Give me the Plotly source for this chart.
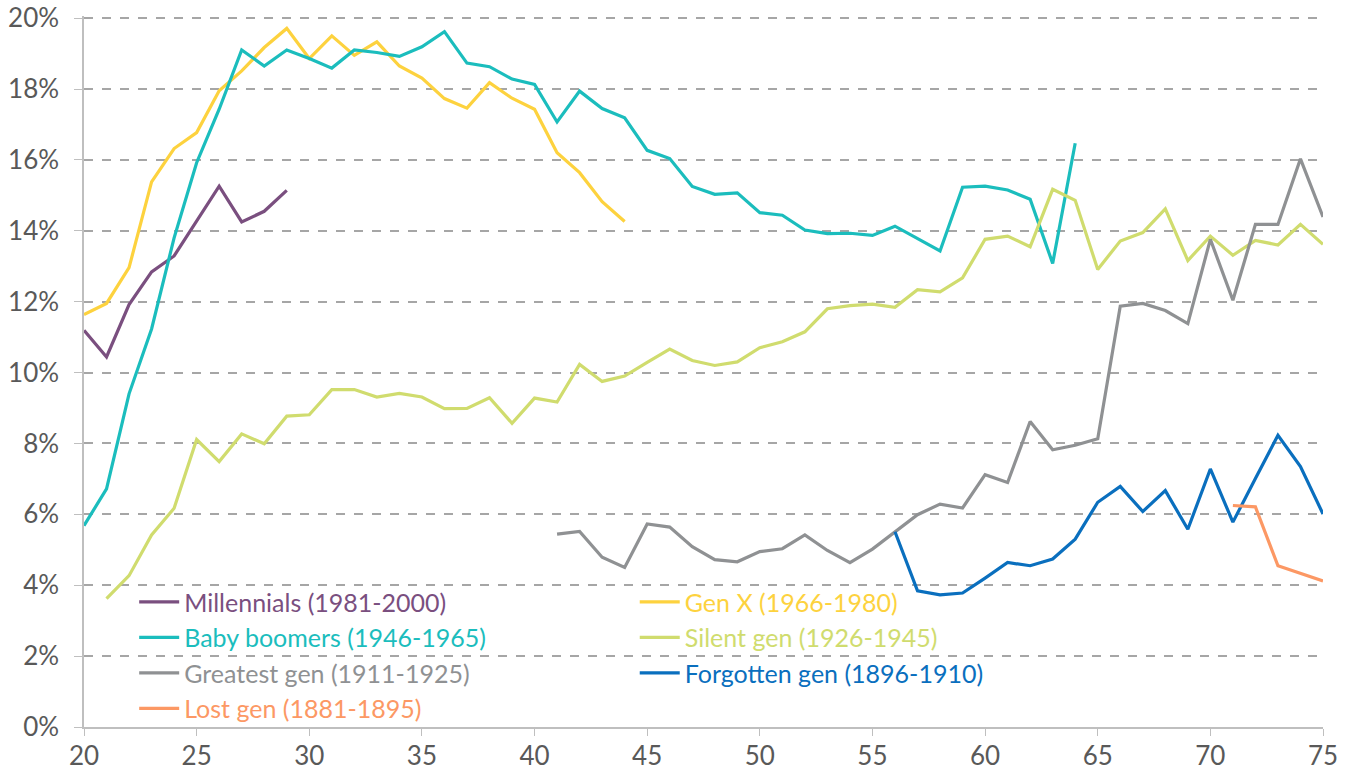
# Share of income by age, per generation - line chart recreated with plotly
import plotly.graph_objects as go

# --- data (percent) ---
millennials_age = list(range(20, 30))
millennials = [11.19, 10.44, 11.92, 12.84, 13.29, 14.27, 15.26, 14.25, 14.55, 15.14]

genx_age = list(range(20, 45))
genx = [11.64, 11.95, 12.96, 15.38, 16.32, 16.77, 17.95, 18.51, 19.17, 19.71,
        18.86, 19.50, 18.95, 19.33, 18.65, 18.31, 17.73, 17.46, 18.18, 17.74,
        17.43, 16.20, 15.64, 14.82, 14.26]

boomers_age = list(range(20, 65))
boomers = [5.68, 6.72, 9.40, 11.23, 13.80, 15.92, 17.43, 19.10, 18.65, 19.10,
           18.86, 18.59, 19.10, 19.03, 18.92, 19.19, 19.62, 18.73, 18.63, 18.28,
           18.13, 17.07, 17.94, 17.45, 17.19, 16.27, 16.04, 15.25, 15.03, 15.07,
           14.51, 14.44, 14.02, 13.92, 13.93, 13.87, 14.13, 13.78, 13.43, 15.23,
           15.26, 15.15, 14.89, 13.08, 16.47]

silent_age = list(range(21, 76))
silent = [3.62, 4.27, 5.42, 6.17, 8.11, 7.49, 8.27, 7.99, 8.77, 8.81,
          9.52, 9.52, 9.31, 9.41, 9.31, 8.98, 8.99, 9.29, 8.57, 9.28,
          9.17, 10.23, 9.75, 9.90, 10.29, 10.66, 10.34, 10.20, 10.30, 10.70,
          10.87, 11.15, 11.80, 11.89, 11.93, 11.84, 12.34, 12.28, 12.67, 13.76,
          13.85, 13.55, 15.17, 14.86, 12.91, 13.71, 13.95, 14.62, 13.16, 13.85,
          13.31, 13.73, 13.60, 14.18, 13.62]

greatest_age = list(range(41, 76))
greatest = [5.44, 5.52, 4.79, 4.50, 5.73, 5.64, 5.09, 4.72, 4.66, 4.95,
            5.03, 5.42, 4.98, 4.64, 5.02, 5.51, 5.99, 6.29, 6.18, 7.12,
            6.90, 8.62, 7.82, 7.95, 8.13, 11.87, 11.95, 11.75, 11.38, 13.76,
            12.04, 14.18, 14.18, 16.03, 14.39]

forgotten_age = list(range(56, 76))
forgotten = [5.51, 3.84, 3.73, 3.78, 4.20, 4.64, 4.55, 4.74, 5.30, 6.34,
             6.79, 6.08, 6.67, 5.58, 7.28, 5.78, 7.01, 8.23, 7.35, 6.01]

lost_age = list(range(71, 76))
lost = [6.25, 6.21, 4.55, 4.34, 4.12]

y_ticks = list(range(0, 21, 2))
y_labels = [f"{v}%" for v in y_ticks]
x_ticks = list(range(20, 76, 5))

series = [
    ("Millennials (1981-2000)", millennials_age, millennials, "#7a4f7f", "legend"),
    ("Gen X (1966-1980)", genx_age, genx, "#fdd23e", "legend2"),
    ("Baby boomers (1946-1965)", boomers_age, boomers, "#1bbdbd", "legend"),
    ("Silent gen (1926-1945)", silent_age, silent, "#d0dc6e", "legend2"),
    ("Greatest gen (1911-1925)", greatest_age, greatest, "#8f9193", "legend"),
    ("Forgotten gen (1896-1910)", forgotten_age, forgotten, "#0a6fbe", "legend2"),
    ("Lost gen (1881-1895)", lost_age, lost, "#fc9864", "legend"),
]

FONT = "Lato, 'Open Sans', sans-serif"

fig = go.Figure()
for name, xs, ys, col, leg in series:
    fig.add_trace(go.Scatter(
        x=xs, y=ys, mode="lines", line=dict(color=col, width=3.2),
        name=f'<span style="color:{col}">{name}</span>', legend=leg))

legend_common = dict(font=dict(family=FONT, size=25, color="#595959"),
                     bgcolor="rgba(0,0,0,0)", orientation="v",
                     xanchor="left", yanchor="top", tracegroupgap=0,
                     itemwidth=40)

# body margin is zeroed in post_script, so the figure fills the window;
# y range a hair above 20 so plotly keeps the top gridline
fig.update_layout(
    width=1351, height=773,
    margin=dict(l=84, r=28, t=16, b=46),
    paper_bgcolor="white", plot_bgcolor="white",
    font=dict(family=FONT, color="#595959"),
    showlegend=True,
    legend=dict(x=0.0405, y=0.208, **legend_common),
    legend2=dict(x=0.4445, y=0.208, **legend_common),
    xaxis=dict(range=[20, 75], tickvals=x_ticks, showgrid=False, zeroline=False,
               automargin=False, ticklabeloverflow="allow",
               showline=True, linecolor="#bfbfbf", linewidth=1.5,
               ticks="outside", ticklen=7, tickcolor="#bfbfbf",
               ticklabelstandoff=-2,
               tickfont=dict(size=26, color="#595959")),
    yaxis=dict(range=[0, 20.06], tickvals=y_ticks, ticktext=y_labels,
               automargin=False, ticklabeloverflow="allow",
               showgrid=True, gridcolor="#a6a6a6", griddash="dash", gridwidth=1.5,
               zeroline=False, showline=True, linecolor="#bfbfbf", linewidth=1.5,
               ticks="outside", ticklen=8, tickcolor="#bfbfbf",
               ticklabelstandoff=10,
               tickfont=dict(size=26, color="#595959")),
)

fig.write_html("out.html", config={"displayModeBar": False},
               post_script="document.body.style.margin='0';")
